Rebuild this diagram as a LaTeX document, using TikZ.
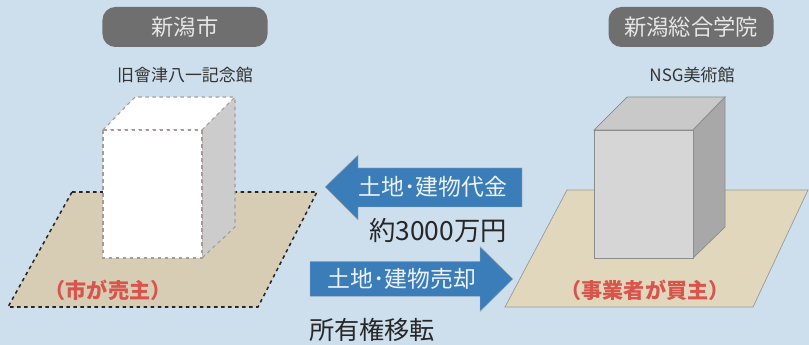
\documentclass[tikz,border=0pt]{standalone}
\usepackage{fontspec}
\newfontfamily\jp{Noto Sans CJK JP}

\definecolor{sky}{HTML}{CDDFEC}
\definecolor{tagfill}{HTML}{6F6F70}
\definecolor{tagtext}{HTML}{E6E6E6}
\definecolor{soil}{HTML}{D7CDB4}
\definecolor{soillight}{HTML}{E1D7BD}
\definecolor{flow}{HTML}{3B7DB9}
\definecolor{owner}{HTML}{D9544B}
\definecolor{ghost}{HTML}{A89A98}

\tikzset{
  tag/.style={rounded corners=11pt, fill=tagfill, text=tagtext,
    minimum width=4.95cm, minimum height=1.2cm, font=\jp\fontsize{19}{19}\selectfont},
  bldname/.style={text=black!80, font=\jp\fontsize{14.5}{15}\selectfont},
  flowarrow/.style={fill=flow, draw=gray!60, line width=0.4pt},
  flowtext/.style={text=white!90!flow, font=\jp\fontsize{19.5}{20}\selectfont},
  note/.style={text=black!85, font=\jp\fontsize{21.5}{22}\selectfont},
  ownertext/.style={text=owner, font=\jp\bfseries\fontsize{18}{18}\selectfont}
}

\begin{document}
\begin{tikzpicture}[x=0.03cm, y=-0.03cm]
  \fill[sky] (0,0) rectangle (809,345);
  \useasboundingbox (0,0) rectangle (809,345);

  % headers
  \node[tag] (city) at (185,27) {新潟市};
  \node[tag] (school) at (691,27) {新潟総合学院};
  \node[bldname] (oldhall) at (185,75) {旧會津八一記念館};
  \node[bldname] (museum) at (692,75) {NSG美術館};

  % city lot and building (dashed)
  \filldraw[fill=soil, draw=black!85, dashed, line width=1.3pt]
    (72,192) -- (317,192) -- (258,307) -- (8,307) -- cycle;
  \filldraw[fill=white, draw=ghost, dashed, line width=0.9pt]
    (103,130) -- (135,97) -- (235,97) -- (202,130) -- cycle;
  \filldraw[fill=black!20, draw=ghost, dashed, line width=0.9pt]
    (202,130) -- (235,97) -- (235,227) -- (202,258) -- cycle;
  \filldraw[fill=white, draw=ghost, dashed, line width=0.9pt]
    (103,130) rectangle (202,258);

  % school lot and building
  \filldraw[fill=soillight, draw=gray!80, line width=0.6pt]
    (567,190) -- (808,190) -- (753,307) -- (505,307) -- cycle;
  \filldraw[fill=black!21, draw=gray!90, line width=0.6pt]
    (594,130) -- (627,97) -- (725,97) -- (693,130) -- cycle;
  \filldraw[fill=black!34, draw=gray!90, line width=0.6pt]
    (693,130) -- (725,97) -- (725,227) -- (693,258) -- cycle;
  \filldraw[fill=black!16, draw=gray!90, line width=0.6pt]
    (594,130) rectangle (693,258);

  \node[ownertext] (seller) at (108,290) {（市が売主）};
  \node[ownertext] (buyer) at (645,290) {（事業者が買主）};

  % payment and transfer
  \filldraw[flowarrow] (325,187) -- (358,155) -- (358,168) -- (522,168)
    -- (522,207) -- (358,207) -- (358,220) -- cycle;
  \node[flowtext] (payment) at (433,187) {土地･建物代金};
  \node[note, font=\jp\fontsize{22.5}{23}\selectfont] (amount) at (438,230) {約3000万円};

  \filldraw[flowarrow] (513,279) -- (480,246.5) -- (480,261.5) -- (310,261.5)
    -- (310,296.5) -- (480,296.5) -- (480,311.5) -- cycle;
  \node[flowtext] (sale) at (402,279) {土地･建物売却};
  \node[note] (transfer) at (372,330) {所有権移転};
\end{tikzpicture}
\end{document}
